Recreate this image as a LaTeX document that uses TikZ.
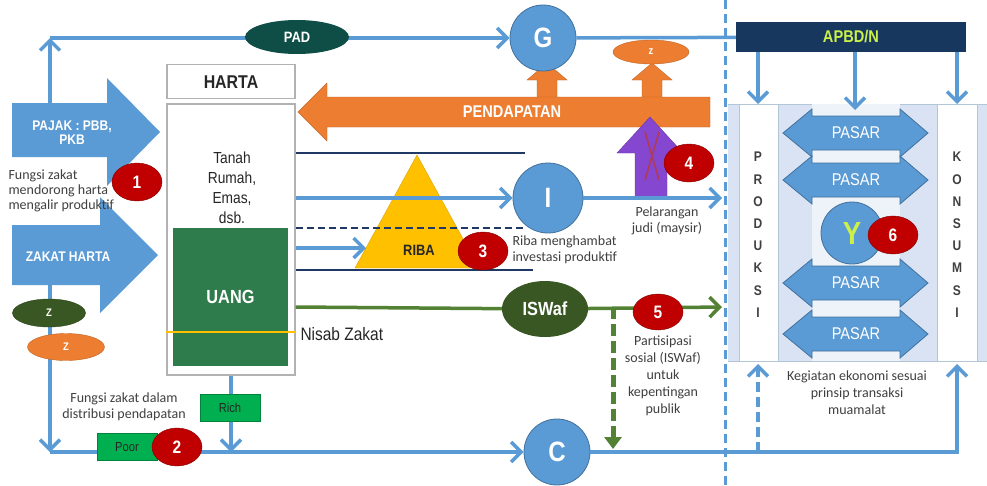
\documentclass[tikz,border=0pt]{standalone}
\usepackage{fontspec}
\setmainfont{Liberation Sans}
\newfontfamily\narrowfont[FakeStretch=0.86]{Liberation Sans}
\newfontfamily\notefont{Carlito}
\usepackage{xcolor}
\usepackage{tikz}
\usetikzlibrary{
    arrows.meta,
    calc,
    positioning,
    shapes.geometric
}
\definecolor{flowblue}{HTML}{5B9BD5}
\definecolor{hubedge}{HTML}{41719C}
\definecolor{navyline}{HTML}{1F3864}
\definecolor{apbdnavy}{HTML}{17375E}
\definecolor{padteal}{HTML}{0F4E47}
\definecolor{zdark}{HTML}{385723}
\definecolor{iswafgreen}{HTML}{548235}
\definecolor{uanggreen}{HTML}{2E7B4B}
\definecolor{poorgreen}{HTML}{00B050}
\definecolor{pendorange}{HTML}{ED7D31}
\definecolor{ribayellow}{HTML}{FFC000}
\definecolor{badgered}{HTML}{C00000}
\definecolor{judipurple}{HTML}{8547CF}
\definecolor{crossred}{HTML}{B03A5B}
\definecolor{panelblue}{HTML}{DAE3F3}
\definecolor{panelpale}{HTML}{EEF3FA}
\definecolor{notegray}{HTML}{404040}
\definecolor{inkgray}{HTML}{262626}
\definecolor{limetext}{HTML}{CCF04A}
\tikzstyle{flow}=[line width=3.5pt,draw=flowblue,-{Straight Barb[length=10pt,width=20pt]}]
\tikzstyle{badge}=[
    ellipse,
    minimum width=50pt,
    minimum height=38pt,
    inner sep=0pt,
    fill=badgered,
    draw=badgered!70!black,
    text=white,
    font=\narrowfont\bfseries\fontsize{18}{20}\selectfont
]
\tikzstyle{note}=[align=center,text=notegray,font=\notefont\fontsize{14}{16}\selectfont]

\begin{document}
\begin{tikzpicture}[x=1pt,y=-1pt,
    hub/.style={circle,fill=flowblue,draw=hubedge,thick,minimum size=66pt,inner sep=0pt,
    text=white,font=\narrowfont\bfseries\fontsize{28}{30}\selectfont},
    zoval/.style={ellipse,inner sep=0pt,text=white,font=\narrowfont\bfseries\fontsize{11}{13}\selectfont},
    bigwhite/.style={align=center,text=white,font=\narrowfont\bfseries\fontsize{14}{14}\selectfont},
    chip/.style={rectangle,fill=poorgreen,draw=poorgreen!75!black,minimum width=60pt,
    minimum height=27pt,inner sep=0pt,text=inkgray,font=\narrowfont\fontsize{13}{15}\selectfont},
    colletter/.style={text=notegray,font=\narrowfont\bfseries\fontsize{14}{16}\selectfont},
    pasarshape/.style={fill=flowblue,draw=hubedge,line width=0.8pt},
    pasartext/.style={text=white,font=\narrowfont\fontsize{17}{19}\selectfont},
    navyrule/.style={line width=2pt,draw=navyline},
    greenflow/.style={line width=3.5pt,draw=iswafgreen}
]
\useasboundingbox (0,0) rectangle (987,485);
\fill[white] (0,0) rectangle (987,485);

% right panel
\fill[panelblue] (728,104) rectangle (987,361);
\draw[hubedge!40,line width=1pt] (728,104) -- (987,104) (728,361) -- (987,361);
\filldraw[fill=white,draw=hubedge!40] (739,104) rectangle (778,361);
\filldraw[fill=white,draw=hubedge!40] (937,104) rectangle (977,361);
\fill[panelpale] (812,104) rectangle (900,361);
\foreach \yy [count=\k] in {133,180,283,334}{
    \draw[pasarshape] (783,\yy) -- (812,\yy-24) -- (812,\yy-17) -- (900,\yy-17) -- (900,\yy-24)
        -- (928,\yy) -- (900,\yy+24) -- (900,\yy+17) -- (812,\yy+17) -- (812,\yy+24) -- cycle;
    \node[pasartext] (pasar\k) at (856,\yy) {PASAR};
}
\foreach \ch [count=\k] in {P,R,O,D,U,K,S,I}
    \node[colletter] (prod\k) at (758,{157+22.2*(\k-1)}) {\ch};
\foreach \ch [count=\k] in {K,O,N,S,U,M,S,I}
    \node[colletter] (kons\k) at (957,{157+22.2*(\k-1)}) {\ch};
\node[hub,minimum size=62pt,text=limetext,font=\narrowfont\bfseries\fontsize{32}{34}\selectfont] (Y) at (852,233) {Y};
\node[badge] (n6) at (893,235) {6};

% APBD/N
\node[rectangle,fill=apbdnavy,minimum width=230pt,minimum height=30pt,inner sep=0pt,
    text=limetext,font=\narrowfont\bfseries\fontsize{17}{19}\selectfont] (apbd) at (851,37) {APBD/N};
\coordinate (prodtop) at (758,104);
\coordinate (pasartop) at (855,110);
\coordinate (konstop) at (957,104);
\draw[flow] (apbd.south -| prodtop) -- (prodtop);
\draw[flow] (apbd.south -| pasartop) -- (pasartop);
\draw[flow] (apbd.south -| konstop) -- (konstop);

% left block arrows
\fill[flowblue] (12,103) -- (107,103) -- (107,78) -- (160,132) -- (107,186) -- (107,157) -- (12,157) -- cycle;
\node[bigwhite] (pajak) at (72,133) {PAJAK : PBB,\\PKB};
\fill[flowblue] (12,225) -- (100,225) -- (100,197) -- (158,255) -- (100,313) -- (100,285) -- (12,285) -- cycle;
\node[bigwhite] (zakat) at (68,257) {ZAKAT HARTA};

% PENDAPATAN
\foreach \xx in {547,652}
    \filldraw[fill=pendorange,draw=pendorange!80!black] (\xx-10,98) -- (\xx-10,80) -- (\xx-20,80)
        -- (\xx,63) -- (\xx+20,80) -- (\xx+10,80) -- (\xx+10,98);
\filldraw[fill=pendorange,draw=pendorange!80!black] (298,112) -- (327,83) -- (327,97) -- (710,97)
    -- (710,127) -- (327,127) -- (327,141) -- cycle;
\node[text=white,font=\narrowfont\bfseries\fontsize{17}{19}\selectfont] (pendapatan) at (512,112) {PENDAPATAN};
\node[zoval,fill=pendorange,draw=pendorange!80!black,minimum width=76pt,minimum height=24pt] (zgov) at (651,52) {z};

% G and the tax line
\node[hub] (G) at (543,38) {G};
\coordinate (pajaktop) at (50,103);
\coordinate (padcorner) at (50,38);
\draw[flow] (pajaktop) -- (padcorner);
\draw[flow] (padcorner) -- (G);
\draw[line width=3.5pt,flowblue] (G) -- (apbd);
\node[zoval,fill=padteal,minimum width=104pt,minimum height=34pt,font=\narrowfont\bfseries\fontsize{15}{17}\selectfont] (pad) at (297,37) {PAD};

% HARTA
\node[draw=gray!60,line width=1.2pt,fill=white,minimum width=128pt,minimum height=271pt,inner sep=0pt] (hartabox) at (231,239.5) {};
\node[draw=gray!60,line width=1.2pt,minimum width=128pt,minimum height=34pt,inner sep=0pt,text=inkgray,
    font=\narrowfont\bfseries\fontsize{18.5}{20}\selectfont,above=4pt of hartabox] (harta) {HARTA};
\node[align=center,text=inkgray,font=\narrowfont\fontsize{16}{20}\selectfont] (aset) at (232,188) {Tanah\\Rumah,\\Emas,\\dsb.};
\node[fill=uanggreen,minimum width=115pt,minimum height=138pt,inner sep=0pt,text=white,
    font=\narrowfont\bfseries\fontsize{19}{21}\selectfont] (uang) at (230.5,297) {UANG};
\draw[ribayellow,line width=2.5pt] (hartabox.west |- 0,332) -- (hartabox.east |- 0,332);
\node[anchor=west,text=inkgray,font=\narrowfont\fontsize{18}{20}\selectfont] (nisab) at (297,334) {Nisab Zakat};

% riba block
\draw[fill=ribayellow,draw=ribayellow!85!black] (417,155) -- (479,268) -- (355,268) -- cycle;
\node[text=inkgray,font=\narrowfont\bfseries\fontsize{15}{17}\selectfont] (riba) at (419,250) {RIBA};
\node[hub,minimum size=70pt] (I) at (548,198) {I};
\coordinate (ribaleft) at (366,248);
\coordinate (divI) at (722,198);
\draw[navyrule] (hartabox.east |- 0,153) -- (525,153);
\draw[flow] (hartabox.east |- I) -- (I);
\draw[navyrule,dash pattern=on 7pt off 4pt] (hartabox.east |- 0,228) -- (525,228);
\draw[flow] (hartabox.east |- ribaleft) -- (ribaleft);
\draw[navyrule] (hartabox.east |- 0,270) -- (533,270);
\node[badge] (n3) at (483,251) {3};
\node[note,align=left,anchor=west] (ribanote) at (509,250) {Riba menghambat\\investasi produktif};

% judi
\filldraw[fill=judipurple,draw=judipurple!80!black] (635,197) -- (635,153) -- (617,153) -- (650,117)
    -- (683,153) -- (667,153) -- (667,197) -- cycle;
\draw[crossred,line width=1.6pt] (645,132) -- (659,180) (659,132) -- (645,180);
\draw[flow] (I) -- (divI);
\node[badge] (n4) at (689,163) {4};
\node[note] (judinote) at (667,221) {Pelarangan\\judi (maysir)};

% ISWaf
\node[zoval,fill=zdark,minimum width=86pt,minimum height=56pt,font=\narrowfont\bfseries\fontsize{19}{21}\selectfont] (iswaf) at (545,309) {ISWaf};
\coordinate (divS) at (722,307);
\coordinate (dropS) at (613,307);
\coordinate (dropE) at (613,449);
\draw[greenflow] (hartabox.east |- divS) -- (iswaf);
\draw[greenflow,-{Straight Barb[length=10pt,width=20pt]}] (iswaf) -- (divS);
\draw[iswafgreen,line width=5pt,dash pattern=on 12pt off 5pt,-{Triangle[length=12pt,width=17pt]}] (dropS) -- (dropE);
\node[badge,minimum height=36pt] (n5) at (658,312) {5};
\node[note,font=\notefont\fontsize{14}{17}\selectfont] (iswafnote) at (663,376) {Partisipasi\\sosial (ISWaf)\\untuk\\kepentingan\\publik};

% consumption line
\node[hub] (C) at (557,452) {C};
\coordinate (zakatfoot) at (50,285);
\coordinate (zcorner) at (50,452);
\coordinate (prodfoot) at (758,452);
\coordinate (prodbase) at (758,364);
\coordinate (konsfoot) at (957,452);
\coordinate (konsbase) at (957,364);
\draw[flow] (zakatfoot) -- (zcorner);
\draw[flow] (zcorner) -- (C);
\draw[flow] (C) -- (konsfoot) -- (konsbase);
\draw[flow,dash pattern=on 10pt off 5pt] (prodfoot) -- (prodbase);
\draw[flow] (hartabox.south) -- (hartabox.south |- zcorner);
\node[zoval,fill=zdark,draw=zdark!80!black,minimum width=73pt,minimum height=28pt] (zdark) at (49,313) {Z};
\node[zoval,fill=pendorange,draw=pendorange!80!black,minimum width=77pt,minimum height=27pt] (zorange) at (66,347) {Z};
\node[chip] (rich) at (230,408) {Rich};
\node[chip] (poor) at (127,447) {Poor};
\node[badge] (n2) at (177,447) {2};
\node[note] (fungsi2) at (124,407) {Fungsi zakat dalam\\distribusi pendapatan};

% notes on the left
\node[note,align=left,anchor=west,font=\notefont\fontsize{14}{15}\selectfont] (fungsi1) at (5,191) {Fungsi zakat\\mendorong harta\\mengalir produktif};
\node[badge] (n1) at (137,182) {1};
\node[note,font=\notefont\fontsize{14}{17}\selectfont] (muamalat) at (857,393) {Kegiatan ekonomi sesuai\\prinsip transaksi\\muamalat};

% divider
\draw[flowblue,line width=3pt,dash pattern=on 9pt off 5pt] (725,0) -- (725,485);
\end{tikzpicture}
\end{document}
